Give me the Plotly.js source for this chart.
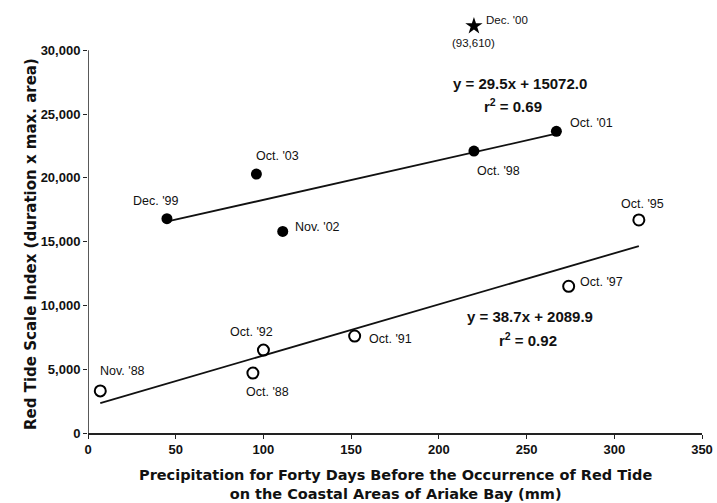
<!DOCTYPE html>
<html>
<head>
<meta charset="utf-8">
<script src="https://cdn.plot.ly/plotly-3.0.1.min.js"></script>
<style>html,body{margin:0;padding:0;background:#fff;}#chart{width:717px;height:503px;}</style>
</head>
<body>
<div id="chart"></div>
<script>
// Filled circles (upper group)
const filledLabels = ["Dec. '99", "Oct. '03", "Nov. '02", "Oct. '98", "Oct. '01"];
const filledX = [45, 96, 111, 220, 267];
const filledY = [16800, 20300, 15800, 22100, 23650];

// Open circles (lower group)
const openLabels = ["Nov. '88", "Oct. '88", "Oct. '92", "Oct. '91", "Oct. '97", "Oct. '95"];
const openX = [7, 94, 100, 152, 274, 314];
const openY = [3300, 4700, 6500, 7600, 11500, 16700];

// Off-scale outlier (Dec. '00, actual 93,610) drawn above the axis top
const starLabel = "Dec. '00";
const starValueText = "(93,610)";
const starX = [220];
const starY = [31900];

// Regression lines (endpoints)
const fitFilledX = [46, 265];
const fitFilledY = [16600, 23400];
const fitOpenX = [7, 314];
const fitOpenY = [2350, 14650];
const eqFilled = ["y = 29.5x + 15072.0", "r<sup>2</sup> = 0.69"];
const eqOpen = ["y = 38.7x + 2089.9", "r<sup>2</sup> = 0.92"];

const xTicks = [0, 50, 100, 150, 200, 250, 300, 350];
const yTicks = [0, 5000, 10000, 15000, 20000, 25000, 30000];
const yTickText = ["0", "5,000", "10,000", "15,000", "20,000", "25,000", "30,000"];
const yAxisTop = 30000;

const FONT = "Liberation Sans, Arial, Helvetica, sans-serif";
const BOLDFONT = "DejaVu Sans, Liberation Sans, Arial, sans-serif";

const traces = [
  {x: fitFilledX, y: fitFilledY, mode: "lines", line: {color: "#111", width: 1.8}, hoverinfo: "skip"},
  {x: fitOpenX, y: fitOpenY, mode: "lines", line: {color: "#111", width: 1.8}, hoverinfo: "skip"},
  {x: filledX, y: filledY, mode: "markers", cliponaxis: false,
   marker: {symbol: "circle", size: 11, color: "#000"}},
  {x: openX, y: openY, mode: "markers", cliponaxis: false,
   marker: {symbol: "circle-open", size: 11, color: "#000", line: {width: 2, color: "#000"}}},
  {x: starX, y: starY, mode: "markers", cliponaxis: false,
   marker: {symbol: "star", size: 13, color: "#000"}}
];

function lbl(x, y, text, xanchor, dx, dy, size) {
  return {x: x, y: y, xref: "x", yref: "y", text: text, showarrow: false,
          xanchor: xanchor, yanchor: "middle", xshift: dx, yshift: dy,
          font: {family: FONT, size: size || 12.5, color: "#111"}};
}
function eq(x, y, text) {
  return {x: x, y: y, xref: "x", yref: "y", text: text, showarrow: false,
          font: {family: FONT, size: 15, color: "#111", weight: "bold"}};
}

const annotations = [
  lbl(filledX[0], filledY[0], filledLabels[0], "center", -11, 18),
  lbl(filledX[1], filledY[1], filledLabels[1], "center", 21, 18),
  lbl(filledX[2], filledY[2], filledLabels[2], "left", 10, 4),
  lbl(filledX[3], filledY[3], filledLabels[3], "center", 25, -20),
  lbl(filledX[4], filledY[4], filledLabels[4], "left", 12, 8),
  lbl(starX[0], starY[0], starLabel, "left", 10, 6, 11.5),
  lbl(starX[0], starY[0], starValueText, "center", 0, -17, 11.5),
  lbl(openX[0], openY[0], openLabels[0], "center", 22, 20),
  lbl(openX[1], openY[1], openLabels[1], "center", 15, -19),
  lbl(openX[2], openY[2], openLabels[2], "center", -12, 18),
  lbl(openX[3], openY[3], openLabels[3], "left", 12, -3),
  lbl(openX[4], openY[4], openLabels[4], "left", 9, 4),
  lbl(openX[5], openY[5], openLabels[5], "center", 4, 16),
  eq(246, 27400, eqFilled[0]),
  eq(242, 25700, eqFilled[1]),
  eq(252, 9100, eqOpen[0]),
  eq(251, 7350, eqOpen[1]),
  {xref: "paper", yref: "paper", x: 0.5, y: 0, yshift: -32, yanchor: "top", showarrow: false,
   text: "Precipitation for Forty Days Before the Occurrence of Red Tide<br>on the Coastal Areas of Ariake Bay (mm)",
   font: {family: BOLDFONT, size: 14.5, color: "#111", weight: "bold"}},
  {xref: "paper", yref: "paper", x: (20 - 88) / 614, y: (433 - 244) / 421, showarrow: false,
   textangle: -90, text: "Red Tide Scale Index (duration x max. area)",
   font: {family: BOLDFONT, size: 15, color: "#111", weight: "bold"}}
];

const layout = {
  width: 717, height: 503,
  margin: {l: 88, r: 15, t: 12, b: 70},
  paper_bgcolor: "#fff", plot_bgcolor: "#fff",
  showlegend: false,
  font: {family: FONT, color: "#111"},
  xaxis: {
    range: [0, 350], tickvals: xTicks, ticktext: xTicks.map(String),
    showgrid: false, zeroline: false, showline: true, linecolor: "#222", linewidth: 1.5,
    ticks: "outside", ticklen: 4, tickcolor: "#222",
    tickfont: {family: FONT, size: 13, color: "#111", weight: "bold"}
  },
  yaxis: {
    range: [0, 33000], tickvals: yTicks, ticktext: yTickText,
    showgrid: false, zeroline: false, showline: false,
    ticks: "outside", ticklen: 4, tickcolor: "#222",
    tickfont: {family: FONT, size: 13, color: "#111", weight: "bold"}
  },
  shapes: [
    {type: "line", xref: "x", yref: "y", x0: 0, x1: 0, y0: 0, y1: yAxisTop,
     line: {color: "#222", width: 1.5}}
  ],
  annotations: annotations
};

Plotly.newPlot("chart", traces, layout, {displayModeBar: false, staticPlot: true});
</script>
</body>
</html>
